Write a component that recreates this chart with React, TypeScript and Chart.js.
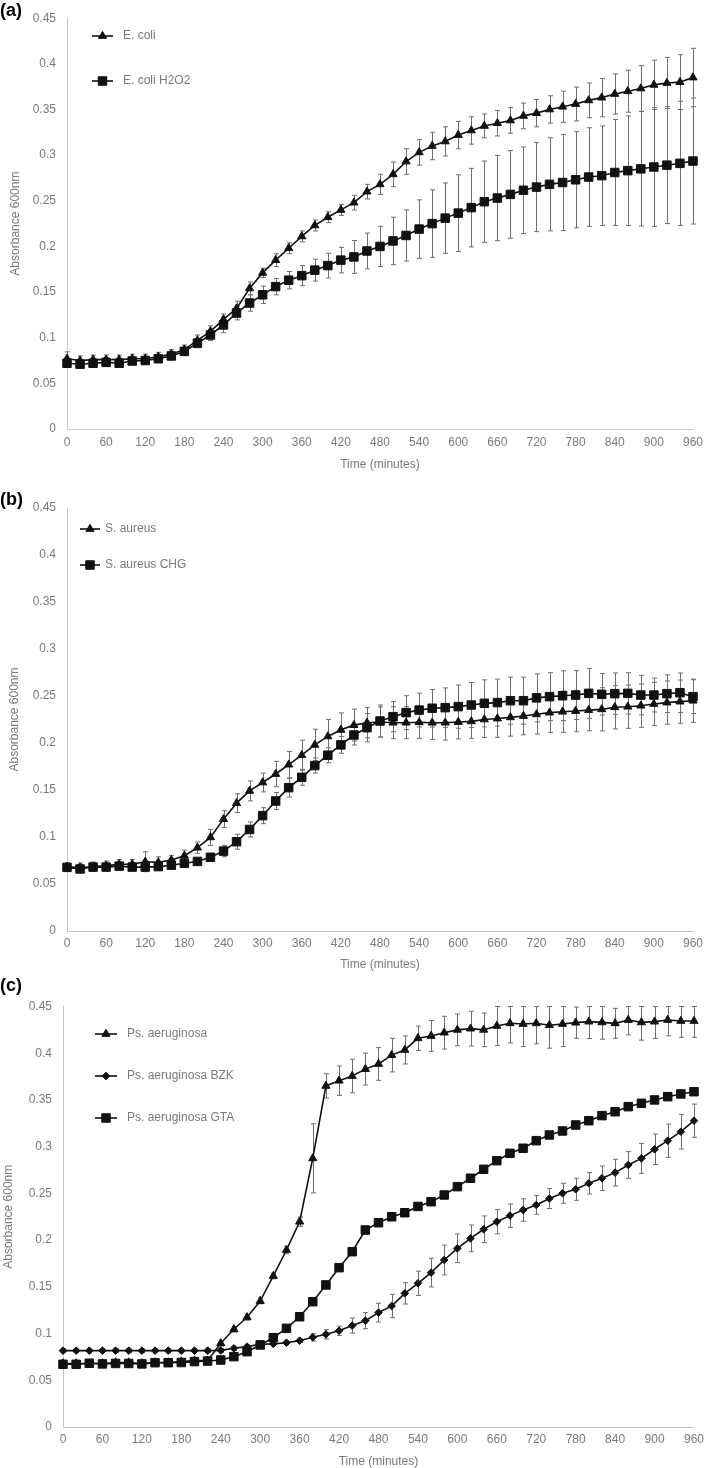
import React, { useEffect, useRef } from 'react';
import { Chart, registerables } from 'chart.js';

Chart.register(...registerables);

const FONT = "'Liberation Sans', Arial, Helvetica, sans-serif";
const TEXT = '#7a7a7a';
const AXIS = '#c8c8c8';
const INK = '#111111';
const ERR = '#6e6e6e';

// ---------- data ----------
const timeMinutes = [
  0, 20, 40, 60, 80, 100, 120, 140, 160, 180,
  200, 220, 240, 260, 280, 300, 320, 340, 360, 380,
  400, 420, 440, 460, 480, 500, 520, 540, 560, 580,
  600, 620, 640, 660, 680, 700, 720, 740, 760, 780,
  800, 820, 840, 860, 880, 900, 920, 940, 960,
];
const xTickValues = [0, 60, 120, 180, 240, 300, 360, 420, 480, 540, 600, 660, 720, 780, 840, 900, 960];
const xTickLabels = ['0', '60', '120', '180', '240', '300', '360', '420', '480', '540', '600', '660', '720', '780', '840', '900', '960'];
const yTickValues = [0, 0.05, 0.1, 0.15, 0.2, 0.25, 0.3, 0.35, 0.4, 0.45];
const yTickLabels = ['0', '0.05', '0.1', '0.15', '0.2', '0.25', '0.3', '0.35', '0.4', '0.45'];

// (a)
const eColi = [
  0.077, 0.075, 0.076, 0.076, 0.076, 0.077, 0.077, 0.079, 0.082, 0.087,
  0.097, 0.107, 0.120, 0.132, 0.154, 0.171, 0.185, 0.198, 0.211, 0.223,
  0.232, 0.240, 0.248, 0.260, 0.268, 0.279, 0.293, 0.303, 0.310, 0.315,
  0.322, 0.327, 0.332, 0.335, 0.338, 0.343, 0.346, 0.350, 0.353, 0.356,
  0.360, 0.363, 0.367, 0.370, 0.373, 0.377, 0.379, 0.380, 0.385,
];
const eColiErr = [
  0.0075, 0.005, 0.005, 0.005, 0.005, 0.005, 0.005, 0.005, 0.005, 0.005,
  0.006, 0.006, 0.006, 0.008, 0.007, 0.005, 0.007, 0.006, 0.006, 0.006,
  0.006, 0.006, 0.008, 0.008, 0.011, 0.0135, 0.014, 0.014, 0.015, 0.016,
  0.015, 0.015, 0.013, 0.014, 0.014, 0.014, 0.015, 0.015, 0.017, 0.0185,
  0.019, 0.021, 0.022, 0.023, 0.025, 0.027, 0.028, 0.030, 0.032,
];
const eColiH2O2 = [
  0.072, 0.071, 0.072, 0.073, 0.072, 0.0745, 0.075, 0.077, 0.080, 0.085,
  0.094, 0.103, 0.114, 0.127, 0.138, 0.147, 0.156, 0.163, 0.168, 0.174,
  0.179, 0.185, 0.1885, 0.195, 0.200, 0.206, 0.212, 0.219, 0.225, 0.231,
  0.2365, 0.2425, 0.249, 0.253, 0.257, 0.2615, 0.265, 0.268, 0.270, 0.273,
  0.276, 0.2775, 0.281, 0.283, 0.285, 0.287, 0.289, 0.291, 0.2935,
];
const eColiH2O2Err = [
  0.004, 0.004, 0.004, 0.004, 0.004, 0.004, 0.004, 0.004, 0.004, 0.004,
  0.005, 0.006, 0.0085, 0.0075, 0.009, 0.0095, 0.009, 0.0095, 0.011, 0.012,
  0.0135, 0.014, 0.018, 0.0196, 0.022, 0.026, 0.028, 0.032, 0.037, 0.0385,
  0.042, 0.043, 0.0445, 0.0467, 0.048, 0.0474, 0.0488, 0.051, 0.0527, 0.0527,
  0.054, 0.0545, 0.058, 0.060, 0.0627, 0.065, 0.064, 0.068, 0.069,
];

// (b)
const sAureus = [
  0.0684, 0.0674, 0.0684, 0.0695, 0.071, 0.071, 0.0737, 0.073, 0.0755, 0.080,
  0.0886, 0.0996, 0.119, 0.136, 0.149, 0.158, 0.167, 0.177, 0.187, 0.198,
  0.207, 0.214, 0.219, 0.2216, 0.2223, 0.2216, 0.2216, 0.222, 0.2216, 0.2216,
  0.2223, 0.223, 0.225, 0.226, 0.2273, 0.2287, 0.2305, 0.2323, 0.2333, 0.234,
  0.235, 0.2358, 0.238, 0.2386, 0.2397, 0.2415, 0.243, 0.244, 0.245,
];
const sAureusErr = [
  0.004, 0.005, 0.005, 0.005, 0.005, 0.005, 0.0106, 0.006, 0.005, 0.006,
  0.006, 0.0085, 0.009, 0.010, 0.0106, 0.010, 0.0135, 0.014, 0.016, 0.0167,
  0.018, 0.018, 0.017, 0.016, 0.016, 0.017, 0.017, 0.017, 0.018, 0.0185,
  0.018, 0.018, 0.019, 0.020, 0.020, 0.020, 0.021, 0.021, 0.022, 0.022,
  0.022, 0.023, 0.023, 0.023, 0.023, 0.023, 0.023, 0.023, 0.023,
];
const sAureusCHG = [
  0.0677, 0.066, 0.068, 0.068, 0.069, 0.068, 0.068, 0.0685, 0.070, 0.072,
  0.074, 0.0784, 0.085, 0.095, 0.108, 0.1227, 0.1383, 0.1525, 0.1635, 0.176,
  0.187, 0.198, 0.2085, 0.2163, 0.2234, 0.228, 0.2323, 0.235, 0.237, 0.2376,
  0.2387, 0.2404, 0.2422, 0.243, 0.245, 0.245, 0.248, 0.2493, 0.2503, 0.251,
  0.2528, 0.2518, 0.2525, 0.2528, 0.251, 0.251, 0.2525, 0.2535, 0.2493,
];
const sAureusCHGErr = [
  0.003, 0.003, 0.003, 0.003, 0.003, 0.003, 0.003, 0.003, 0.003, 0.003,
  0.003, 0.004, 0.006, 0.008, 0.008, 0.0085, 0.009, 0.010, 0.0085, 0.008,
  0.008, 0.009, 0.0106, 0.015, 0.017, 0.016, 0.018, 0.018, 0.020, 0.021,
  0.023, 0.024, 0.025, 0.025, 0.025, 0.025, 0.0255, 0.0255, 0.0265, 0.026,
  0.0266, 0.022, 0.022, 0.022, 0.021, 0.018, 0.020, 0.021, 0.018,
];

// (c)
const psAeruginosa = [
  0.068, 0.068, 0.068, 0.068, 0.069, 0.069, 0.068, 0.069, 0.069, 0.070,
  0.071, 0.071, 0.0896, 0.1046, 0.1174, 0.1348, 0.1616, 0.1894, 0.2197, 0.2875,
  0.365, 0.3706, 0.3756, 0.383, 0.3885, 0.398, 0.4035, 0.416, 0.4185, 0.422,
  0.425, 0.4263, 0.425, 0.4292, 0.432, 0.4313, 0.432, 0.430, 0.4313, 0.4327,
  0.4338, 0.433, 0.432, 0.4356, 0.433, 0.4338, 0.4356, 0.4345, 0.4345,
];
const psAeruginosaErr = [
  0.002, 0.002, 0.002, 0.002, 0.002, 0.002, 0.002, 0.002, 0.002, 0.002,
  0.002, 0.002, 0.003, 0.003, 0.003, 0.003, 0.003, 0.004, 0.005, 0.037,
  0.013, 0.0157, 0.018, 0.017, 0.0175, 0.018, 0.015, 0.013, 0.0165, 0.0175,
  0.017, 0.0185, 0.018, 0.021, 0.021, 0.024, 0.022, 0.0246, 0.024, 0.0167,
  0.018, 0.018, 0.016, 0.016, 0.019, 0.018, 0.017, 0.0175, 0.0175,
];
const psAeruginosaBZK = [
  0.0817, 0.0817, 0.0817, 0.0817, 0.0817, 0.0817, 0.0817, 0.0817, 0.0817, 0.0817,
  0.0817, 0.0817, 0.082, 0.0842, 0.086, 0.0885, 0.089, 0.0902, 0.0924, 0.096,
  0.0992, 0.103, 0.1085, 0.1138, 0.1224, 0.1295, 0.143, 0.1538, 0.1652, 0.1787,
  0.1912, 0.2019, 0.2116, 0.2197, 0.2262, 0.2322, 0.2376, 0.2445, 0.2501, 0.2544,
  0.2608, 0.2662, 0.2722, 0.2804, 0.2875, 0.2972, 0.3064, 0.316, 0.3278,
];
const psAeruginosaBZKErr = [
  0.002, 0.002, 0.002, 0.002, 0.002, 0.002, 0.002, 0.002, 0.002, 0.002,
  0.002, 0.002, 0.002, 0.002, 0.002, 0.002, 0.002, 0.002, 0.002, 0.004,
  0.005, 0.005, 0.008, 0.0086, 0.010, 0.0125, 0.0114, 0.013, 0.0153, 0.016,
  0.0153, 0.0143, 0.0143, 0.013, 0.0125, 0.012, 0.010, 0.0107, 0.0107, 0.0118,
  0.0114, 0.013, 0.0143, 0.0143, 0.016, 0.0164, 0.0178, 0.0185, 0.0178,
];
const psAeruginosaGTA = [
  0.0671, 0.0671, 0.0682, 0.0675, 0.068, 0.068, 0.0675, 0.0688, 0.0688, 0.069,
  0.070, 0.0706, 0.0717, 0.0753, 0.0806, 0.0878, 0.0956, 0.1056, 0.118, 0.1341,
  0.152, 0.1705, 0.1876, 0.2108, 0.2186, 0.225, 0.2293, 0.236, 0.2411, 0.2483,
  0.2572, 0.2662, 0.2758, 0.285, 0.2929, 0.2983, 0.3064, 0.3125, 0.3168, 0.3232,
  0.3278, 0.3332, 0.3374, 0.3428, 0.3464, 0.350, 0.3535, 0.3564, 0.3588,
];
const psAeruginosaGTAErr = [
  0.002, 0.002, 0.002, 0.002, 0.002, 0.002, 0.002, 0.002, 0.002, 0.002,
  0.002, 0.002, 0.002, 0.002, 0.002, 0.002, 0.002, 0.002, 0.002, 0.002,
  0.002, 0.002, 0.002, 0.002, 0.002, 0.002, 0.002, 0.002, 0.002, 0.002,
  0.002, 0.002, 0.002, 0.002, 0.002, 0.002, 0.002, 0.002, 0.002, 0.003,
  0.002, 0.002, 0.002, 0.002, 0.002, 0.002, 0.002, 0.002, 0.002,
];

// ---------- presentation ----------
type Marker = 'triangle' | 'rect' | 'rectRot';
const markerRadius: Record<Marker, number> = { triangle: 4.7, rect: 6, rectRot: 3.8 };

type Series = { label: string; values: number[]; errors: number[]; marker: Marker; order: number };
type PanelSpec = {
  tag: string; tagY: number;
  top: number; height: number;
  padTop: number; padRight: number; padBottom: number;
  yAxisW: number; xAxisH: number; tickPad: number; yTitlePad: number;
  legend: { x0: number; x1: number; tx: number; ys: number[] };
  series: Series[];
};

const panels: PanelSpec[] = [
  {
    tag: '(a)', tagY: 11, top: 0, height: 480,
    padTop: 8, padRight: 15, padBottom: 9, yAxisW: 67, xAxisH: 42, tickPad: 6, yTitlePad: 10,
    legend: { x0: 92, x1: 113, tx: 123, ys: [36, 81] },
    series: [
      { label: 'E. coli', values: eColi, errors: eColiErr, marker: 'triangle', order: 1 },
      { label: 'E. coli H2O2', values: eColiH2O2, errors: eColiH2O2Err, marker: 'rect', order: 0 },
    ],
  },
  {
    tag: '(b)', tagY: 20, top: 480, height: 495,
    padTop: 28, padRight: 16, padBottom: 4, yAxisW: 67, xAxisH: 40, tickPad: 5, yTitlePad: 9,
    legend: { x0: 80, x1: 100, tx: 105, ys: [49, 85] },
    series: [
      { label: 'S. aureus', values: sAureus, errors: sAureusErr, marker: 'triangle', order: 1 },
      { label: 'S. aureus CHG', values: sAureusCHG, errors: sAureusCHGErr, marker: 'rect', order: 0 },
    ],
  },
  {
    tag: '(c)', tagY: 11.5, top: 975, height: 493,
    padTop: 31.5, padRight: 11, padBottom: 0, yAxisW: 63, xAxisH: 41, tickPad: 5, yTitlePad: 3,
    legend: { x0: 95, x1: 117, tx: 127, ys: [59, 101, 143] },
    series: [
      { label: 'Ps. aeruginosa', values: psAeruginosa, errors: psAeruginosaErr, marker: 'triangle', order: 2 },
      { label: 'Ps. aeruginosa BZK', values: psAeruginosaBZK, errors: psAeruginosaBZKErr, marker: 'rectRot', order: 1 },
      { label: 'Ps. aeruginosa GTA', values: psAeruginosaGTA, errors: psAeruginosaGTAErr, marker: 'rect', order: 0 },
    ],
  },
];

function drawMarker(ctx: CanvasRenderingContext2D, m: Marker, x: number, y: number) {
  const r = markerRadius[m];
  ctx.beginPath();
  if (m === 'triangle') {
    ctx.moveTo(x, y - r);
    ctx.lineTo(x + r * 0.866, y + r * 0.5);
    ctx.lineTo(x - r * 0.866, y + r * 0.5);
    ctx.closePath();
  } else if (m === 'rect') {
    const s = r * Math.SQRT1_2;
    ctx.rect(x - s, y - s, 2 * s, 2 * s);
  } else {
    ctx.moveTo(x, y - r);
    ctx.lineTo(x + r, y);
    ctx.lineTo(x, y + r);
    ctx.lineTo(x - r, y);
    ctx.closePath();
  }
  ctx.fillStyle = INK;
  ctx.strokeStyle = INK;
  ctx.lineWidth = 1;
  ctx.fill();
  ctx.stroke();
}

const errorBarPlugin = {
  id: 'errorBars',
  beforeDatasetsDraw(chart: any) {
    const { ctx, chartArea } = chart;
    const xs = chart.scales.x;
    const ys = chart.scales.y;
    ctx.save();
    ctx.strokeStyle = ERR;
    ctx.lineWidth = 1;
    chart.data.datasets.forEach((ds: any) => {
      const err: number[] = ds.errorBars;
      if (!err) return;
      ds.data.forEach((p: any, i: number) => {
        const x = Math.round(xs.getPixelForValue(p.x)) + 0.5;
        let yt = ys.getPixelForValue(p.y + err[i]);
        let yb = ys.getPixelForValue(p.y - err[i]);
        yt = Math.max(yt, chartArea.top);
        yb = Math.min(yb, chartArea.bottom);
        ctx.beginPath();
        ctx.moveTo(x, yt);
        ctx.lineTo(x, yb);
        ctx.moveTo(x - 2.5, yt);
        ctx.lineTo(x + 2.5, yt);
        ctx.moveTo(x - 2.5, yb);
        ctx.lineTo(x + 2.5, yb);
        ctx.stroke();
      });
    });
    ctx.restore();
  },
};

function makeDecorPlugin(spec: PanelSpec) {
  return {
    id: 'decor',
    afterDraw(chart: any) {
      const { ctx } = chart;
      ctx.save();
      // panel tag
      ctx.font = `bold 18px ${FONT}`;
      ctx.fillStyle = '#000';
      ctx.textBaseline = 'middle';
      ctx.textAlign = 'left';
      ctx.fillText(spec.tag, 0, spec.tagY);
      // legend
      spec.series.forEach((s, i) => {
        const y = spec.legend.ys[i];
        ctx.strokeStyle = INK;
        ctx.lineWidth = 1.6;
        ctx.beginPath();
        ctx.moveTo(spec.legend.x0, y);
        ctx.lineTo(spec.legend.x1, y);
        ctx.stroke();
        drawMarker(ctx, s.marker, (spec.legend.x0 + spec.legend.x1) / 2, y);
        ctx.font = `12px ${FONT}`;
        ctx.fillStyle = TEXT;
        ctx.textBaseline = 'middle';
        ctx.fillText(s.label, spec.legend.tx, y);
      });
      ctx.restore();
    },
  };
}

function Panel({ spec }: { spec: PanelSpec }) {
  const ref = useRef<HTMLCanvasElement>(null);
  useEffect(() => {
    const canvas = ref.current;
    if (!canvas) return;
    const chart = new Chart(canvas, {
      type: 'line',
      data: {
        datasets: spec.series.map((s) => ({
          label: s.label,
          data: timeMinutes.map((t, i) => ({ x: t, y: s.values[i] })),
          errorBars: s.errors,
          borderColor: INK,
          backgroundColor: INK,
          borderWidth: 1.6,
          pointStyle: s.marker,
          pointRadius: markerRadius[s.marker],
          pointBorderWidth: 1,
          pointBackgroundColor: INK,
          pointBorderColor: INK,
          tension: 0,
          clip: false,
          order: s.order,
        })) as any,
      },
      options: {
        responsive: false,
        animation: false,
        devicePixelRatio: 1,
        events: [],
        layout: { padding: { top: spec.padTop, right: spec.padRight, bottom: spec.padBottom, left: 0 } },
        plugins: { legend: { display: false }, tooltip: { enabled: false } },
        scales: {
          x: {
            type: 'linear',
            min: 0,
            max: 960,
            afterBuildTicks: (s: any) => {
              s.ticks = xTickValues.map((v) => ({ value: v }));
            },
            afterFit: (s: any) => {
              s.height = spec.xAxisH;
            },
            ticks: {
              autoSkip: false,
              maxRotation: 0,
              padding: spec.tickPad,
              color: TEXT,
              font: { family: FONT, size: 12 },
              callback: (_v: any, i: number) => xTickLabels[i],
            },
            grid: { display: false, drawTicks: false },
            border: { display: true, color: AXIS, width: 1 },
            title: {
              display: true,
              text: 'Time (minutes)',
              color: TEXT,
              font: { family: FONT, size: 12, lineHeight: 1 },
              padding: { top: 0, bottom: 0 },
            },
          },
          y: {
            type: 'linear',
            min: 0,
            max: 0.45,
            afterBuildTicks: (s: any) => {
              s.ticks = yTickValues.map((v) => ({ value: v }));
            },
            afterFit: (s: any) => {
              s.width = spec.yAxisW;
            },
            ticks: {
              autoSkip: false,
              padding: 11,
              color: TEXT,
              font: { family: FONT, size: 12 },
              callback: (_v: any, i: number) => yTickLabels[i],
            },
            grid: { display: false, drawTicks: false },
            border: { display: true, color: AXIS, width: 1 },
            title: {
              display: true,
              text: 'Absorbance 600nm',
              color: TEXT,
              font: { family: FONT, size: 12, lineHeight: 1 },
              padding: { top: spec.yTitlePad, bottom: 0 },
            },
          },
        },
      } as any,
      plugins: [errorBarPlugin, makeDecorPlugin(spec)],
    });
    return () => chart.destroy();
  }, [spec]);
  return (
    <div style={{ position: 'absolute', left: 0, top: spec.top, width: 709, height: spec.height }}>
      <canvas ref={ref} width={709} height={spec.height} style={{ display: 'block' }} />
    </div>
  );
}

export default function App() {
  return (
    <div style={{ position: 'absolute', left: 0, top: 0, width: 709, height: 1468, background: '#fff', overflow: 'hidden' }}>
      {panels.map((p) => (
        <Panel key={p.tag} spec={p} />
      ))}
    </div>
  );
}
